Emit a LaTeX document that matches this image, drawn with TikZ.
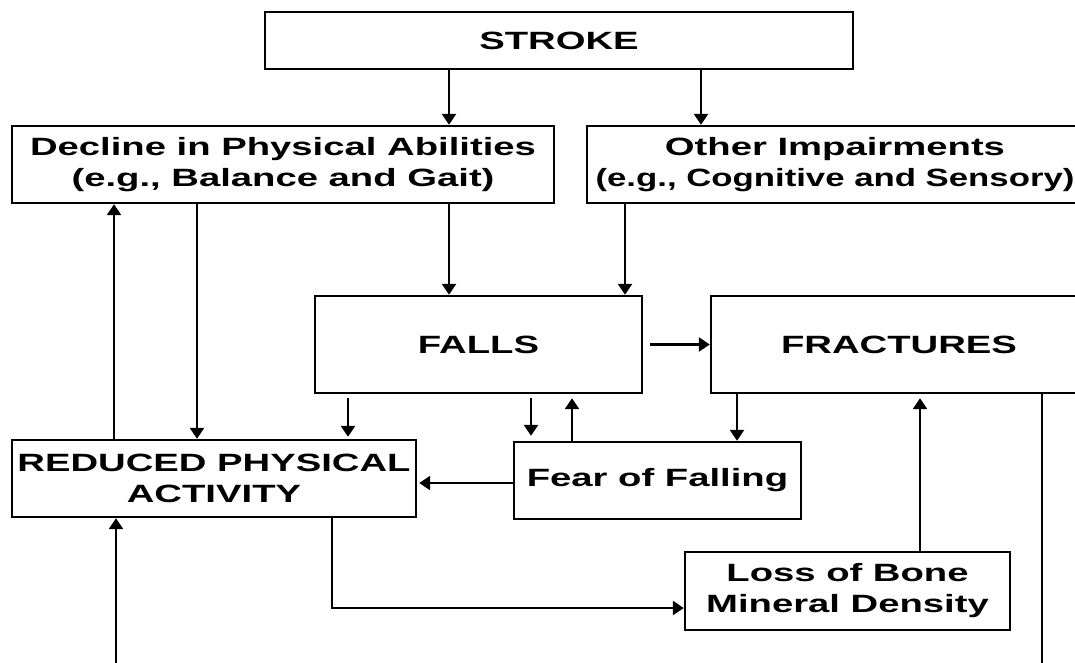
\documentclass[tikz,border=0pt]{standalone}
\usepackage{fontspec}
\setmainfont{Liberation Sans}[FakeStretch=1.53]
\newfontfamily\narrowf{Liberation Sans}[FakeStretch=1.39]
\usetikzlibrary{arrows.meta}
\begin{document}
\begin{tikzpicture}[x=1pt,y=-1pt,
  box/.style={draw, line width=2.4pt, inner sep=0pt, align=center,
    font=\fontsize{25}{31}\selectfont\bfseries},
  arr/.style={line width=2.4pt, -{Triangle[width=14pt,length=11pt]}}]
\useasboundingbox (0,0) rectangle (1075,662);
\clip (0,0) rectangle (1075,662);
\fill[white] (0,0) rectangle (1075,662);

\node[box, minimum width=588pt, minimum height=57pt] (stroke) at (559,40.5) {STROKE};
\node[box, minimum width=542pt, minimum height=77pt] (decline) at (283,164.5)
  {Decline in Physical Abilities\\(e.g., Balance and Gait)};
\node[box, minimum width=496pt, minimum height=77pt] (other) at (835,164.5)
  {Other Impairments\\{\narrowf\bfseries (e.g., Cognitive and Sensory)}};
\node[box, minimum width=327pt, minimum height=97pt] (falls) at (478.5,344.5) {FALLS};
\node[box, minimum width=376pt, minimum height=97pt] (fract) at (899,344.5) {FRACTURES};
\node[box, minimum width=404pt, minimum height=77pt] (rpa) at (214,478.5)
  {REDUCED PHYSICAL\\ACTIVITY};
\node[box, minimum width=287pt, minimum height=77pt] (fear) at (657.5,480.5) {Fear of Falling};
\node[box, minimum width=325pt, minimum height=78pt] (loss) at (847.5,591)
  {Loss of Bone\\Mineral Density};

\coordinate (bendR) at (1042,666);
\coordinate (bendL) at (116,666);

\draw[arr] (stroke.south -| 449,0) -- (decline.north -| 449,0);
\draw[arr] (stroke.south -| 701,0) -- (other.north -| 701,0);
\draw[arr] (decline.south -| 449,0) -- (falls.north -| 449,0);
\draw[arr] (other.south -| 625,0) -- (falls.north -| 625,0);
\draw[arr] (rpa.north -| 114,0) -- (decline.south -| 114,0);
\draw[arr] (decline.south -| 197,0) -- (rpa.north -| 197,0);
\draw[arr, shorten <=4pt, shorten >=2pt] (falls.south -| 348,0) -- (rpa.north -| 348,0);
\draw[arr, shorten <=4pt, shorten >=5pt] (falls.south -| 531,0) -- (fear.north -| 531,0);
\draw[arr, shorten >=4pt] (fear.north -| 572,0) -- (falls.south -| 572,0);
\draw[arr] (fract.south -| 737,0) -- (fear.north -| 737,0);
\draw[arr, shorten <=7pt] (falls.east) -- (fract.west);
\draw[arr, shorten >=2pt] (fear.west |- 0,483) -- (rpa.east |- 0,483);
\draw[arr] (rpa.south -| 332,0) |- (loss.west |- 0,608);
\draw[arr, shorten >=4pt] (loss.north -| 920,0) -- (fract.south -| 920,0);
\draw[arr] (fract.south -| 1042,0) -- (bendR) -- (bendL) -- (rpa.south -| 116,0);
\end{tikzpicture}
\end{document}
